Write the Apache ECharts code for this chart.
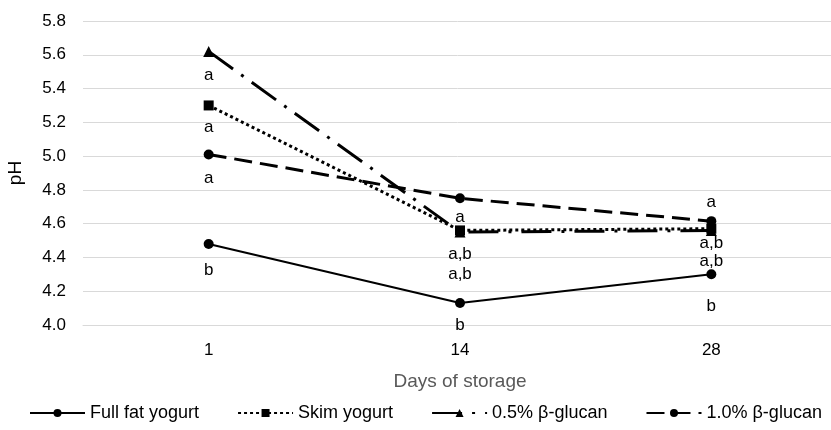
<!DOCTYPE html>
<html>
<head>
<meta charset="utf-8">
<script src="https://cdn.jsdelivr.net/npm/echarts@6/dist/echarts.min.js"></script>
<style>html,body{margin:0;padding:0;background:#fff}#c{width:831px;height:430px}</style>
</head>
<body>
<div id="c"></div>
<script>
// ---- data ----
const days = ['1', '14', '28'];
const seriesNames = ['Full fat yogurt', 'Skim yogurt', '0.5% β-glucan', '1.0% β-glucan'];
const fullFat = [4.48, 4.13, 4.30];
const skim = [5.30, 4.56, 4.57];
const glucan05 = [5.62, 4.55, 4.56];
const glucan10 = [5.01, 4.75, 4.615];
const fullFatLetters = ['b', 'b', 'b'];
const skimLetters = ['a', 'a,b', 'a,b'];
const glucan05Letters = ['a', 'a,b', 'a,b'];
const glucan10Letters = ['a', 'a', 'a'];
const yTicks = { min: 4.0, max: 5.8, step: 0.2 };

// ---- styling (label offsets relative to points) ----
const labelDy = [[26, 22, 32], [22, 24, 15], [24, 42, 31], [24, 19, -19]];
const FONT = 'Liberation Sans, Arial, sans-serif';

function mk(name, values, letters, dy, sym, symSize, lineStyle, z) {
  return {
    name, type: 'line', data: values.map((v, i) => ({
      value: v,
      label: { show: true, formatter: letters[i], position: 'inside', offset: [0, dy[i]] }
    })),
    symbol: sym, symbolSize: symSize, z,
    itemStyle: { color: '#000' },
    lineStyle: Object.assign({ color: '#000' }, lineStyle),
    label: { color: '#000', fontSize: 17, fontFamily: FONT },
    emphasis: { disabled: true },
    animation: false
  };
}

const chart = echarts.init(document.getElementById('c'), null, { renderer: 'canvas' });
chart.setOption({
  animation: false,
  grid: { left: 83, top: 21, width: 754, height: 304, outerBoundsMode: 'none', containLabel: false },
  xAxis: {
    type: 'category', data: days, boundaryGap: true,
    axisLine: { lineStyle: { color: '#d9d9d9', width: 1 } },
    axisTick: { show: false },
    axisLabel: { color: '#000', fontSize: 17, fontFamily: FONT, margin: 17 },
    name: 'Days of storage', nameLocation: 'middle', nameGap: 47,
    nameTextStyle: { color: '#595959', fontSize: 19, fontFamily: FONT }
  },
  yAxis: {
    type: 'value', min: yTicks.min, max: yTicks.max, interval: yTicks.step,
    axisLine: { show: false }, axisTick: { show: false },
    splitLine: { lineStyle: { color: '#d9d9d9', width: 1 } },
    axisLabel: { color: '#000', fontSize: 17, fontFamily: FONT, margin: 17, formatter: v => v.toFixed(1) },
    name: 'pH', nameLocation: 'middle', nameGap: 58, nameRotate: 90,
    nameTextStyle: { color: '#000', fontSize: 19, fontFamily: FONT }
  },
  legend: {
    bottom: 8, left: 29, width: 820, padding: 0, itemWidth: 55, itemHeight: 10, itemGap: 38,
    textStyle: { color: '#000', fontSize: 18, fontFamily: FONT },
    data: seriesNames
  },
  series: [
    mk(seriesNames[0], fullFat, fullFatLetters, labelDy[0], 'circle', 10, { width: 2, type: 'solid' }, 4),
    mk(seriesNames[1], skim, skimLetters, labelDy[1], 'rect', 10, { width: 3, type: [3, 3] }, 3),
    mk(seriesNames[2], glucan05, glucan05Letters, labelDy[2], 'triangle', 11, { width: 3, type: [30, 10, 3, 10] }, 2),
    mk(seriesNames[3], glucan10, glucan10Letters, labelDy[3], 'circle', 10, { width: 3, type: [18, 8] }, 1)
  ]
});
</script>
</body>
</html>
